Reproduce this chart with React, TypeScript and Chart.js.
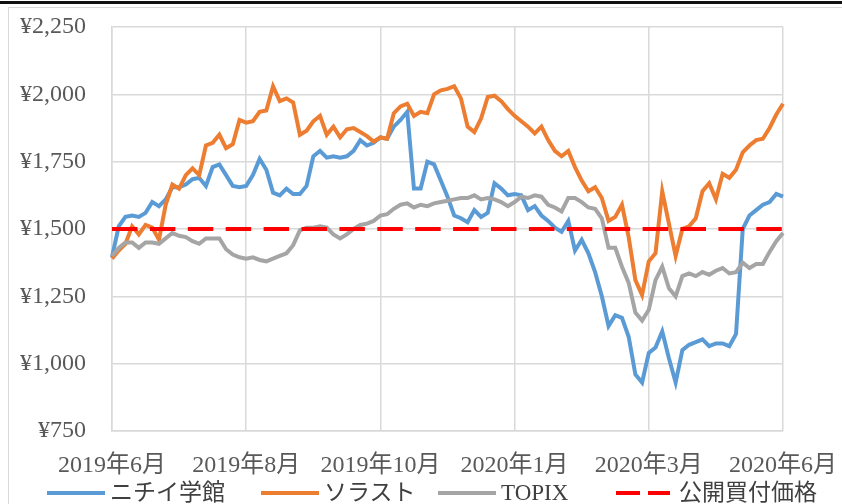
import React, { useEffect, useRef } from 'react';
import { Chart, registerables } from 'chart.js';

Chart.register(...registerables);

// x-axis tick labels (one every POINTS_PER_TICK data points)
const tickLabels = ['2019年6月', '2019年8月', '2019年10月', '2020年1月', '2020年3月', '2020年6月'];
const POINTS_PER_TICK = 20;

// ニチイ学館 (yen)
const nichii = [
  1395, 1510, 1545, 1550, 1545, 1560, 1600, 1585, 1610, 1655,
  1655, 1665, 1685, 1690, 1660, 1730, 1740, 1700, 1660, 1655,
  1660, 1700, 1760, 1720, 1635, 1625, 1650, 1630, 1630, 1660,
  1770, 1790, 1765, 1770, 1765, 1770, 1790, 1830, 1810, 1820,
  1840, 1835, 1880, 1905, 1935, 1650, 1650, 1750, 1740, 1680,
  1620, 1550, 1540, 1525, 1570, 1545, 1560, 1670, 1650, 1625,
  1630, 1625, 1570, 1585, 1550, 1530, 1505, 1490, 1530, 1420,
  1460, 1410, 1340, 1250, 1140, 1180, 1170, 1100, 960, 930,
  1040, 1060, 1120, 1020, 930, 1050, 1070, 1080, 1090, 1065,
  1075, 1075, 1065, 1110, 1500, 1550, 1570, 1590, 1600, 1630,
  1620,
];

// ソラスト (yen)
const solasto = [
  1390, 1420, 1445, 1510, 1480, 1515, 1505, 1460, 1590, 1665,
  1650, 1700, 1725, 1700, 1810, 1820, 1850, 1800, 1815, 1905,
  1895, 1900, 1935, 1940, 2030, 1975, 1985, 1970, 1850, 1865,
  1900, 1920, 1850, 1880, 1840, 1870, 1875, 1860, 1845, 1825,
  1840, 1835, 1930, 1955, 1965, 1920, 1935, 1930, 2000, 2015,
  2020, 2030, 1985, 1880, 1860, 1910, 1990, 1995, 1975, 1945,
  1920, 1900, 1880, 1855, 1880, 1830, 1790, 1770, 1790, 1730,
  1680, 1640, 1655, 1615, 1530, 1545, 1590, 1470, 1310, 1255,
  1380, 1410, 1640, 1520, 1400, 1500, 1510, 1540, 1640, 1670,
  1610, 1705, 1690, 1720, 1785, 1810, 1830, 1835, 1875, 1925,
  1965,
];

// TOPIX (rebased, yen scale)
const topix = [
  1400, 1430, 1450, 1450, 1430, 1450, 1450, 1445, 1465, 1485,
  1475, 1470, 1455, 1445, 1465, 1465, 1465, 1425, 1405, 1395,
  1390, 1395, 1385, 1380, 1390, 1400, 1410, 1440, 1495, 1505,
  1505, 1510, 1505, 1480, 1465, 1480, 1500, 1515, 1520, 1530,
  1550, 1555, 1575, 1590, 1595, 1580, 1590, 1585, 1595, 1600,
  1605, 1610, 1615, 1615, 1625, 1610, 1615, 1610, 1600, 1585,
  1600, 1620, 1615, 1625, 1620, 1590, 1580, 1565, 1615, 1615,
  1600, 1580, 1575, 1540, 1430, 1430, 1360, 1300, 1190, 1160,
  1200, 1310, 1360, 1280, 1250, 1325, 1335, 1325, 1340, 1330,
  1345, 1355, 1335, 1340, 1375, 1355, 1370, 1370, 1415, 1455,
  1485,
];

// 公開買付価格 (tender offer price, yen)
const tenderOfferPrice = 1500;

const Y_MIN = 750;
const Y_MAX = 2250;
const Y_STEP = 250;

const seriesNames = ['ニチイ学館', 'ソラスト', 'TOPIX', '公開買付価格'];
const seriesColors = ['#5B9BD5', '#ED7D31', '#A5A5A5', '#FF0000'];

const categories = nichii.map((_, i) =>
  i % POINTS_PER_TICK === 0 ? tickLabels[i / POINTS_PER_TICK] : ''
);

const FONT_FAMILY = "'Liberation Serif', 'Noto Sans CJK JP', serif";
const TEXT_COLOR = '#595959';
const GRID_COLOR = '#d9d9d9';
const LINE_WIDTH = 4;
const RED_DASH = [25.5, 12.4];

// legend placement (left edge of each swatch)
const legendLefts = [47, 261, 438, 616];

export default function App() {
  const canvasRef = useRef<HTMLCanvasElement | null>(null);

  useEffect(() => {
    if (!canvasRef.current) return;
    const chart = new Chart(canvasRef.current, {
      type: 'line',
      data: {
        labels: categories,
        datasets: [
          {
            label: seriesNames[0],
            data: nichii,
            borderColor: seriesColors[0],
            backgroundColor: seriesColors[0],
            borderWidth: LINE_WIDTH,
            pointRadius: 0,
            tension: 0,
            order: 3,
          },
          {
            label: seriesNames[1],
            data: solasto,
            borderColor: seriesColors[1],
            backgroundColor: seriesColors[1],
            borderWidth: LINE_WIDTH,
            pointRadius: 0,
            tension: 0,
            order: 2,
          },
          {
            label: seriesNames[2],
            data: topix,
            borderColor: seriesColors[2],
            backgroundColor: seriesColors[2],
            borderWidth: LINE_WIDTH,
            pointRadius: 0,
            tension: 0,
            order: 1,
          },
          {
            label: seriesNames[3],
            data: categories.map(() => tenderOfferPrice),
            borderColor: seriesColors[3],
            backgroundColor: seriesColors[3],
            borderWidth: LINE_WIDTH,
            borderDash: RED_DASH,
            pointRadius: 0,
            tension: 0,
            order: 0,
          },
        ],
      },
      options: {
        animation: false,
        responsive: false,
        devicePixelRatio: 1,
        layout: { padding: { left: 0, right: 59, top: 27, bottom: 0 } },
        plugins: {
          tooltip: { enabled: false },
          legend: { display: false },
        },
        scales: {
          x: {
            type: 'category',
            offset: false,
            grid: { color: GRID_COLOR, lineWidth: 1.5, drawTicks: false },
            border: { color: GRID_COLOR, width: 1.5 },
            ticks: {
              autoSkip: false,
              maxRotation: 0,
              minRotation: 0,
              padding: 20,
              color: TEXT_COLOR,
              font: { family: FONT_FAMILY, size: 24 },
            },
            afterBuildTicks: (scale: any) => {
              scale.ticks = scale.ticks.filter((t: any) => t.value % POINTS_PER_TICK === 0);
            },
            afterFit: (scale: any) => {
              scale.height = 73;
              scale.paddingLeft = 0;
              scale.paddingRight = 0;
            },
          },
          y: {
            min: Y_MIN,
            max: Y_MAX,
            grid: { color: GRID_COLOR, lineWidth: 1.5, drawTicks: false },
            border: { color: GRID_COLOR, width: 1.5 },
            ticks: {
              stepSize: Y_STEP,
              padding: 26,
              color: TEXT_COLOR,
              font: { family: FONT_FAMILY, size: 24 },
              callback: (v: any) => '¥' + Number(v).toLocaleString('en-US'),
            },
            afterFit: (scale: any) => {
              scale.width = 112;
              scale.paddingTop = 0;
              scale.paddingBottom = 0;
            },
          },
        },
      },
    });
    return () => chart.destroy();
  }, []);

  return (
    <div
      style={{
        position: 'fixed',
        left: 0,
        top: 0,
        width: 842,
        height: 504,
        overflow: 'hidden',
        background: '#ffffff',
      }}
    >
      <div style={{ position: 'absolute', left: 0, top: 1, width: 842, height: 3, background: '#111' }} />
      <div
        style={{
          position: 'absolute',
          left: 8,
          top: 7,
          width: 900,
          height: 600,
          borderLeft: '1px solid #d9d9d9',
          borderTop: '1px solid #d9d9d9',
        }}
      />
      <canvas
        ref={canvasRef}
        width={842}
        height={504}
        style={{ position: 'absolute', left: 0, top: 0, width: 842, height: 504 }}
      />
      {seriesNames.map((name, i) => {
        const isDashed = i === 3;
        const swatchW = isDashed ? 54 : 58;
        return (
          <div
            key={name}
            style={{
              position: 'absolute',
              left: legendLefts[i],
              top: 478,
              height: 30,
              display: 'flex',
              alignItems: 'center',
              whiteSpace: 'nowrap',
            }}
          >
            <svg width={swatchW} height={8} style={{ display: 'block' }}>
              <line
                x1={0}
                y1={4}
                x2={swatchW}
                y2={4}
                stroke={seriesColors[i]}
                strokeWidth={LINE_WIDTH}
                strokeDasharray={isDashed ? '24 8' : undefined}
              />
            </svg>
            <span
              style={{
                marginLeft: isDashed ? 9 : 5,
                fontFamily: FONT_FAMILY,
                fontSize: 23,
                lineHeight: '30px',
                color: '#404040',
              }}
            >
              {name}
            </span>
          </div>
        );
      })}
    </div>
  );
}
